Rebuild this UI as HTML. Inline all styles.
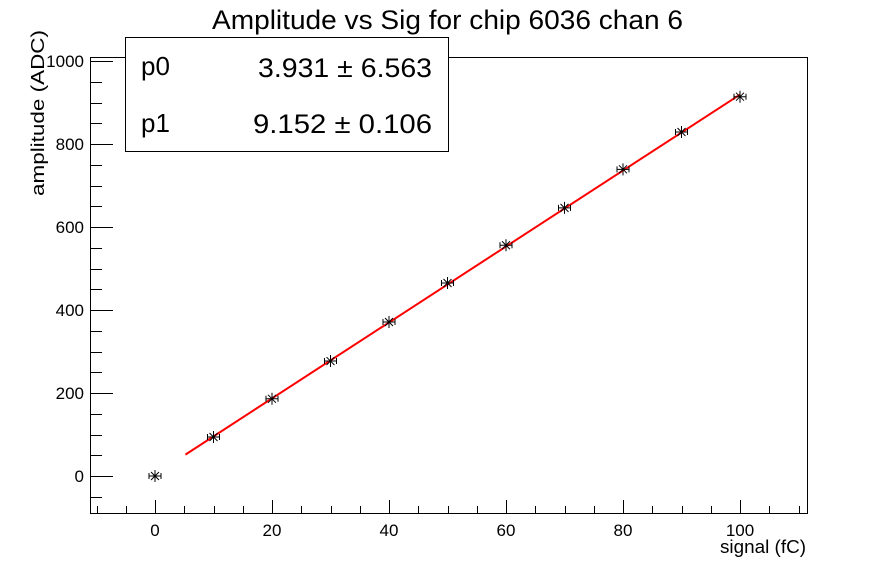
<!DOCTYPE html>
<html><head><meta charset="utf-8"><style>body{margin:0;background:#fff}svg{display:block}text{font-family:"Liberation Sans",Arial,sans-serif;fill:#000}</style></head>
<body>
<svg id="s" width="896" height="572" xmlns="http://www.w3.org/2000/svg">
<rect width="896" height="572" fill="#fff"/>
<text x="212" y="29" font-size="27" textLength="471" lengthAdjust="spacingAndGlyphs">Amplitude vs Sig for chip 6036 chan 6</text>
<rect x="90.5" y="57.5" width="717" height="456" fill="none" stroke="#000" stroke-width="1"/>
<g id="ax" stroke="#000" stroke-width="1"></g>
<g id="lb" font-size="17"></g>
<text x="720" y="553" font-size="18" textLength="86" lengthAdjust="spacingAndGlyphs">signal (fC)</text>
<text transform="translate(44,196) rotate(-90)" font-size="18" textLength="166" lengthAdjust="spacingAndGlyphs">amplitude (ADC)</text>
<polyline id="fit" fill="none" stroke="#f00" stroke-width="2"/>
<g id="pts" stroke="#000" stroke-width="1" fill="none"></g>
<rect x="125.5" y="37.5" width="323" height="114" fill="#fff" stroke="#000" stroke-width="1"/>
<text x="141" y="75" font-size="26">p0</text>
<text x="258" y="77" font-size="27" textLength="174" lengthAdjust="spacingAndGlyphs">3.931 ± 6.563</text>
<text x="141" y="132" font-size="26">p1</text>
<text x="253" y="133" font-size="27" textLength="179" lengthAdjust="spacingAndGlyphs">9.152 ± 0.106</text>
</svg>
<script>
var ns="http://www.w3.org/2000/svg";
function X(v){return 155+v*5.85}function Y(v){return 476-v*0.415}
function el(p,t,a,txt){var e=document.createElementNS(ns,t);for(var k in a)e.setAttribute(k,a[k]);if(txt!=null)e.textContent=txt;document.getElementById(p).appendChild(e);}
for(var v=-10;v<=110;v+=5){var x=Math.round(X(v))+0.5,L=(v%20==0)?13:7;el('ax','line',{x1:x,x2:x,y1:513,y2:513-L});if(v%20==0&&v>=0&&v<=100)el('lb','text',{x:X(v),y:536,'text-anchor':'middle'},v);}
for(var v=-50;v<=1000;v+=50){var y=Math.round(Y(v))+0.5,L=(v%200==0)?22:11;el('ax','line',{x1:91,x2:91+L,y1:y,y2:y});if(v%200==0)el('lb','text',{x:84,y:Y(v)+6,'text-anchor':'end'},v);}
document.getElementById('fit').setAttribute('points',X(5.2)+','+Y(3.931+9.152*5.2)+' '+X(100)+','+Y(3.931+915.2));
var d=[[0,0],[10,94],[20,186],[30,277],[40,371],[50,465],[60,556],[70,646],[80,739],[90,829],[100,914]];
d.forEach(function(p){var x=X(p[0]),y=Y(p[1]);el('pts','path',{d:'M'+(x-6)+' '+y+'H'+(x+6)+'M'+(x-6)+' '+(y-3)+'v6M'+(x+6)+' '+(y-3)+'v6M'+x+' '+(y-6)+'v12M'+(x-4)+' '+(y-4)+'l8 8M'+(x+4)+' '+(y-4)+'l-8 8'});});
</script>
</body></html>
